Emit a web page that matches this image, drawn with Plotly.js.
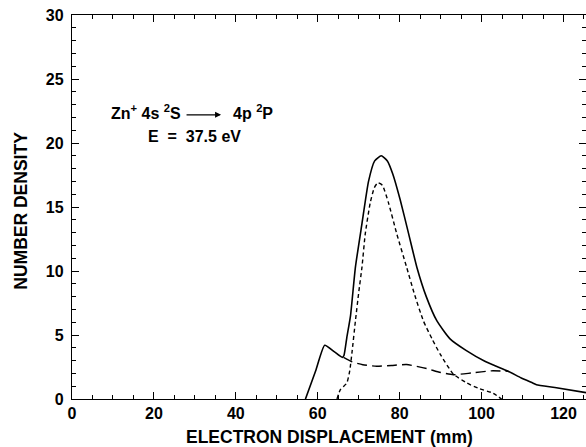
<!DOCTYPE html>
<html>
<head>
<meta charset="utf-8">
<script src="https://cdn.plot.ly/plotly-3.0.1.min.js"></script>
<style>html,body{margin:0;padding:0;background:#fff;}#chart{width:586px;height:447px;}</style>
</head>
<body>
<div id="chart"></div>
<script>
// Total number density (solid)
var totalX = [57.0, 59.5, 61.7, 64.0, 66.0, 66.4, 67.1, 68.0, 69.2, 70.8, 72.4, 73.9, 75.5, 77.0, 78.3, 80.1, 82.2, 84.2, 86.5, 89.1, 92.3, 96.2, 100.8, 106.5, 109.7, 112.5, 113.4, 117.9, 125.5];
var totalY = [0.0, 2.2, 4.2, 3.7, 3.25, 3.4, 4.8, 6.5, 10.3, 13.7, 17.0, 18.6, 19.0, 18.6, 17.6, 15.6, 12.9, 10.3, 8.0, 6.1, 4.7, 3.8, 2.95, 2.17, 1.64, 1.25, 1.12, 0.9, 0.5];

// Short-dashed component
var shortX = [64.7, 65.5, 67.1, 67.8, 68.4, 69.2, 70.0, 70.8, 71.6, 72.8, 73.8, 74.7, 75.8, 77.3, 79.3, 81.7, 83.7, 85.8, 87.9, 89.9, 93.1, 96.4, 99.5, 102.8, 104.9];
var shortY = [0.0, 0.72, 1.25, 2.17, 3.74, 6.1, 8.3, 10.3, 12.9, 15.3, 16.5, 16.9, 16.7, 15.3, 12.9, 10.3, 8.1, 6.1, 4.7, 3.5, 1.95, 1.25, 0.8, 0.46, 0.0];

// Long-dashed component
var longX = [66.3, 68.4, 71.0, 74.4, 78.0, 81.7, 86.6, 89.5, 93.1, 97.5, 102.4, 106.5];
var longY = [3.25, 2.9, 2.68, 2.56, 2.62, 2.69, 2.38, 2.11, 1.9, 2.03, 2.2, 2.17];

var xTickVals = [0, 20, 40, 60, 80, 100, 120];
var yTickVals = [0, 5, 10, 15, 20, 25, 30];
var xTitle = 'ELECTRON DISPLACEMENT (mm)';
var yTitle = 'NUMBER DENSITY';

var fontFam = 'Liberation Sans, Arial, Helvetica, sans-serif';

var traces = [
  {x: longX, y: longY, mode: 'lines', line: {color: '#000', width: 1.4, dash: '10px,5px', shape: 'spline', smoothing: 0.5}, hoverinfo: 'skip'},
  {x: shortX, y: shortY, mode: 'lines', line: {color: '#000', width: 1.4, dash: '4px,3px', shape: 'spline', smoothing: 0.5}, hoverinfo: 'skip'},
  {x: totalX, y: totalY, mode: 'lines', line: {color: '#000', width: 1.6, shape: 'spline', smoothing: 0.5}, hoverinfo: 'skip'}
];

var layout = {
  width: 586, height: 447,
  margin: {l: 72, r: 0, t: 15, b: 48},
  paper_bgcolor: '#fff', plot_bgcolor: '#fff',
  showlegend: false,
  font: {family: fontFam, color: '#000', size: 16, weight: 'bold'},
  xaxis: {
    range: [0, 125.5], showgrid: false, zeroline: false,
    showline: true, linecolor: '#000', linewidth: 1.2, mirror: 'allticks',
    ticks: 'inside', ticklen: 7, tickwidth: 1, tickcolor: '#000',
    tickvals: xTickVals, ticktext: xTickVals.map(String),
    tickfont: {family: fontFam, size: 16, weight: 'bold'},
    minor: {dtick: 5, tick0: 0, ticks: 'inside', ticklen: 4, tickwidth: 1, tickcolor: '#000', showgrid: false}
  },
  yaxis: {
    range: [0, 30], showgrid: false, zeroline: false,
    showline: true, linecolor: '#000', linewidth: 1.2, mirror: 'allticks',
    ticks: 'inside', ticklen: 7, tickwidth: 1, tickcolor: '#000',
    tickvals: yTickVals, ticktext: yTickVals.map(String),
    tickfont: {family: fontFam, size: 16, weight: 'bold'},
    ticklabelstandoff: 4,
    minor: {dtick: 1, tick0: 0, ticks: 'inside', ticklen: 4, tickwidth: 1, tickcolor: '#000', showgrid: false}
  },
  annotations: [
    {x: 0.5, y: -0.098, xref: 'paper', yref: 'paper', xanchor: 'center', yanchor: 'middle', showarrow: false,
     text: xTitle, font: {family: fontFam, size: 17.5, weight: 'bold'}},
    {x: -0.0995, y: 0.49, xref: 'paper', yref: 'paper', xanchor: 'center', yanchor: 'middle', showarrow: false,
     textangle: -90, text: yTitle, font: {family: fontFam, size: 17.5, weight: 'bold'}},
    {x: 9.1, y: 22.4, xref: 'x', yref: 'y', xanchor: 'left', yanchor: 'middle', showarrow: false,
     text: 'Zn<sup>+</sup> 4s <sup>2</sup>S', font: {family: fontFam, size: 16, weight: 'bold'}},
    {x: 36.4, y: 22.2, ax: 27.6, ay: 22.2, xref: 'x', yref: 'y', axref: 'x', ayref: 'y',
     text: '', showarrow: true, arrowhead: 2, arrowsize: 1, arrowwidth: 1.2, arrowcolor: '#000'},
    {x: 38.9, y: 22.4, xref: 'x', yref: 'y', xanchor: 'left', yanchor: 'middle', showarrow: false,
     text: '4p <sup>2</sup>P', font: {family: fontFam, size: 16, weight: 'bold'}},
    {x: 29.8, y: 20.5, xref: 'x', yref: 'y', xanchor: 'center', yanchor: 'middle', showarrow: false,
     text: 'E&nbsp; =&nbsp; 37.5 eV', font: {family: fontFam, size: 16, weight: 'bold'}}
  ]
};

Plotly.newPlot('chart', traces, layout, {displayModeBar: false, staticPlot: true});
</script>
</body>
</html>
